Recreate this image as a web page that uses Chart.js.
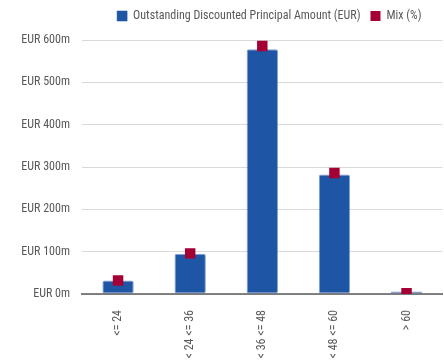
<!DOCTYPE html>
<html>
<head>
<meta charset="utf-8">
<script src="https://cdn.jsdelivr.net/npm/chart.js@4"></script>
<style>
  html, body { margin: 0; padding: 0; background: #fff; overflow: hidden; }
  #wrap { width: 450px; height: 360px; }
</style>
</head>
<body>
<div id="wrap"><canvas id="chart"></canvas></div>
<script>
const categories = ['<= 24', '< 24 <= 36', '< 36 <= 48', '< 48 <= 60', '> 60'];
const principal = [32, 95, 578, 282, 6];       // EUR m
const mix = [3.2, 9.6, 58.6, 28.6, 0.2];        // %
const yTicks = [0, 100, 200, 300, 400, 500, 600];

const FONT = "'Liberation Sans Narrow', 'Roboto Condensed', 'DejaVu Sans Condensed', sans-serif";
const GREY = '#595959';

// legend: a bit more room below it, and nudged right
const legendTweak = {
  id: 'legendTweak',
  beforeInit(chart) {
    const fit = chart.legend.fit;
    chart.legend.fit = function () {
      fit.call(this);
      this.height += 8;
    };
  },
  afterLayout(chart) {
    chart.legend.left += 7;
    chart.legend.right += 7;
  }
};

new Chart(document.getElementById('chart'), {
  data: {
    labels: categories,
    datasets: [
      {
        type: 'bar',
        label: 'Outstanding Discounted Principal Amount (EUR)',
        data: principal,
        backgroundColor: '#1f55a5',
        borderColor: 'rgba(31,85,165,0.55)',
        borderWidth: 1,
        borderRadius: 2,
        borderSkipped: false,
        categoryPercentage: 1,
        barPercentage: 0.435,
        order: 1
      },
      {
        type: 'line',
        label: 'Mix (%)',
        data: mix,
        yAxisID: 'y2',
        showLine: false,
        pointStyle: 'rect',
        pointRadius: 7.4,
        pointHoverRadius: 7.4,
        pointBorderWidth: 0,
        backgroundColor: '#a50034',
        borderColor: '#a50034',
        borderWidth: 0,
        order: 0
      }
    ]
  },
  options: {
    responsive: true,
    maintainAspectRatio: false,
    animation: false,
    layout: { padding: 0 },
    plugins: {
      tooltip: { enabled: false },
      legend: {
        position: 'top',
        fullSize: false,
        labels: {
          color: GREY,
          font: { family: FONT, size: 12 },
          boxWidth: 10,
          boxHeight: 10,
          padding: 10,
          sort: (a, b) => a.datasetIndex - b.datasetIndex
        }
      }
    },
    scales: {
      x: {
        z: 1,
        grid: { display: false },
        border: { color: 'rgba(100,100,100,0.8)', width: 2 },
        ticks: {
          color: GREY,
          font: { family: FONT, size: 12 },
          minRotation: 90,
          maxRotation: 90,
          padding: 8,
          autoSkip: false
        },
        afterFit: s => { s.height = 66; }
      },
      y: {
        min: 0,
        max: 600,
        grid: { color: '#d9d9d9', drawTicks: false },
        border: { display: false },
        afterBuildTicks: s => { s.ticks = yTicks.map(v => ({ value: v })); },
        ticks: {
          color: GREY,
          font: { family: FONT, size: 12 },
          padding: 12,
          callback: v => 'EUR ' + v + 'm'
        },
        afterFit: s => { s.width = 82; }
      },
      y2: {
        display: false,
        min: 0,
        max: 60
      }
    }
  },
  plugins: [legendTweak]
});
</script>
</body>
</html>
